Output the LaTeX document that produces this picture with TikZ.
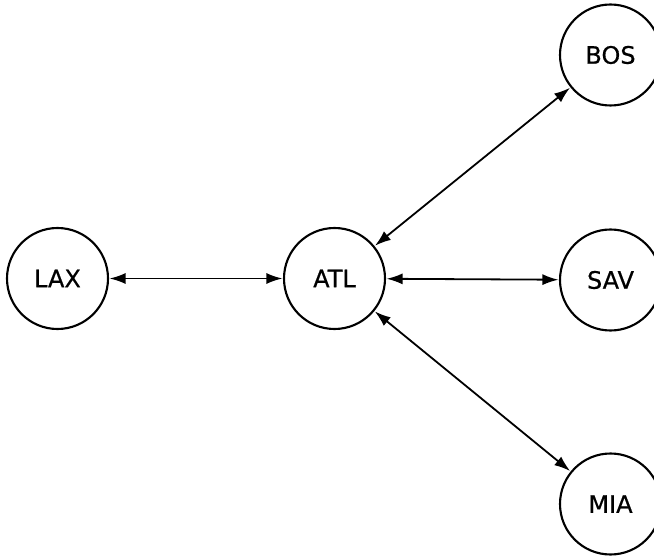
\documentclass[tikz,border=0pt]{standalone}
\usepackage{fontspec}
\setmainfont{DejaVu Sans}
\newfontfamily\labelfont{DejaVu Sans}[FakeBold=0.6]
\usetikzlibrary{arrows.meta}
\begin{document}
\begin{tikzpicture}[x=1pt,y=1pt,
  airport/.style={circle, draw, line width=2.1pt, minimum size=101pt, inner sep=0pt,
    font=\labelfont\fontsize{24}{28}\selectfont},
  route/.style={{Latex[length=16pt,width=11pt]}-{Latex[length=16pt,width=11pt]}, line width=1.8pt, shorten <=0.5pt, shorten >=0.5pt}]
  \useasboundingbox (0,0) rectangle (654,558);
  \node[airport] (lax) at (57.5,279.5) {LAX};
  \node[airport] (atl) at (334.5,279.5) {ATL};
  \node[airport] (bos) at (610.5,503) {BOS};
  \node[airport] (sav) at (610.5,278) {SAV};
  \node[airport] (mia) at (610.5,54) {MIA};
  \draw[route] (lax) -- (atl);
  \draw[route] (atl) -- (sav);
  \draw[route] (atl) -- (bos);
  \draw[route] (atl) -- (mia);
\end{tikzpicture}
\end{document}
